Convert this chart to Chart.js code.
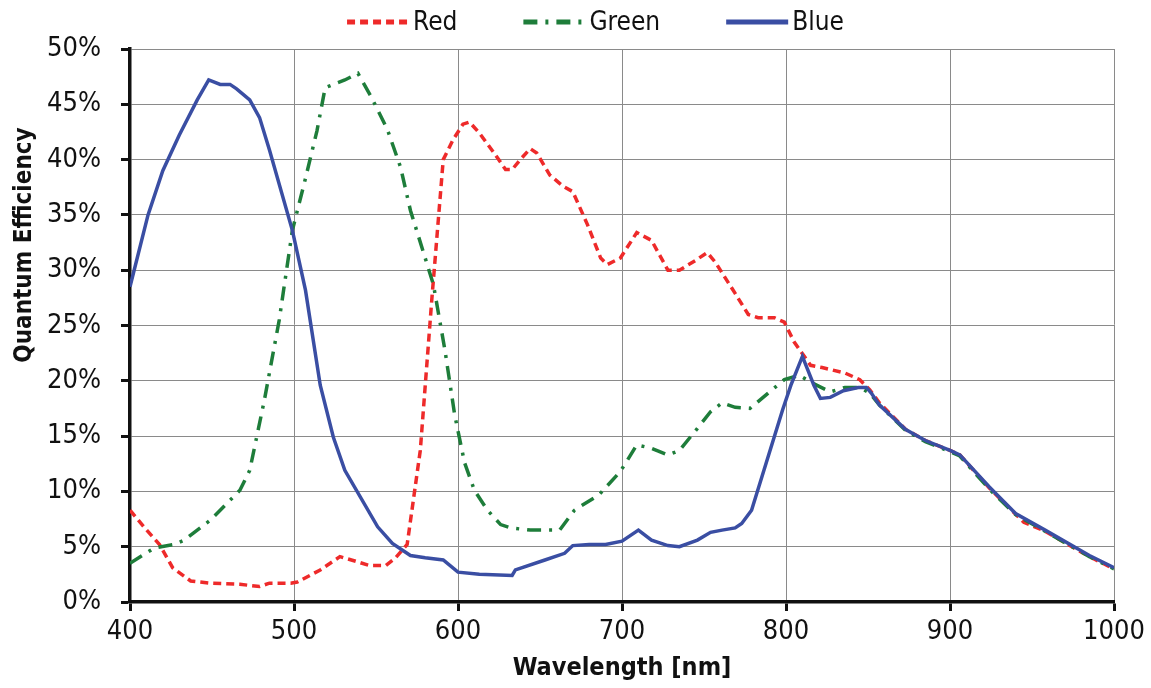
<!DOCTYPE html>
<html>
<head>
<meta charset="utf-8">
<script src="https://cdn.jsdelivr.net/npm/chart.js@4.4.0/dist/chart.umd.min.js"></script>
<style>
html,body{margin:0;padding:0;background:#fff;}
#wrap{width:1151px;height:688px;position:relative;}
</style>
</head>
<body>
<div id="wrap"><canvas id="c"></canvas></div>
<script>
const xTicks = [400, 500, 600, 700, 800, 900, 1000];
const yTicks = [0, 5, 10, 15, 20, 25, 30, 35, 40, 45, 50];

const redNm  = [400,409,418,426,437,449,467,479,485,498,502,516,528,535,546,556,562,569,577,584,591,597,603,607,613,622,629,633,638,644,648,656,664,670,679,687,691,699,709,718,728,735,745,752,757,769,777,783,793,799,805,815,822,836,845,851,857,873,885,900,906,924,945,958,985,1000];
const redPct = [8.3,6.7,5.2,3.1,1.9,1.7,1.6,1.4,1.7,1.7,1.8,2.9,4.1,3.8,3.3,3.3,4.0,5.2,13.7,27.3,40.0,41.8,43.2,43.4,42.4,40.6,39.1,39.1,40.0,41.0,40.6,38.6,37.6,37.1,34.1,31.1,30.5,31.1,33.4,32.7,30.0,30.0,30.9,31.6,30.7,27.9,26.0,25.7,25.7,25.3,23.5,21.4,21.2,20.7,20.1,19.2,18.0,15.6,14.6,13.7,13.3,10.3,7.2,6.4,4.1,3.0];

const greenNm  = [400,415,427,433,449,467,473,482,491,499,507,514,519,531,539,547,557,565,571,580,585,592,598,604,610,618,626,632,644,656,662,671,686,699,709,718,728,735,746,754,761,769,778,790,799,808,816,827,836,845,851,857,873,885,900,906,924,940,958,985,1000];
const greenPct = [3.5,4.9,5.2,5.6,7.4,10.1,11.9,18.3,25.5,33.6,38.3,42.6,46.5,47.2,47.8,45.7,42.7,39.3,35.4,31.1,28.7,22.8,16.9,12.6,10.1,8.3,7.0,6.7,6.5,6.5,6.5,8.3,9.7,11.8,14.2,13.9,13.3,13.7,15.7,17.2,18.0,17.6,17.5,19.0,20.1,20.5,19.8,19.0,19.4,19.4,18.9,17.8,15.5,14.5,13.6,13.2,10.2,7.9,6.4,4.1,3.0];

const blueNm  = [400,411,420,430,441,448,455,461,465,473,479,485,499,507,516,524,531,551,560,571,580,591,600,613,633,635,653,665,670,680,690,700,710,718,728,735,746,754,761,769,773,779,798,803,810,817,821,827,835,844,849,852,857,873,885,900,906,924,940,958,985,1000];
const bluePct = [28.5,35.0,39.0,42.2,45.4,47.2,46.8,46.8,46.4,45.4,43.8,40.9,33.6,28.2,19.6,14.9,11.9,6.8,5.3,4.2,4.0,3.8,2.7,2.5,2.4,2.9,3.8,4.4,5.1,5.2,5.2,5.5,6.5,5.6,5.1,5.0,5.6,6.3,6.5,6.7,7.1,8.3,17.4,19.6,22.2,19.6,18.4,18.5,19.1,19.4,19.4,18.9,17.8,15.6,14.6,13.7,13.3,10.4,8.0,6.5,4.2,3.1];

const seriesNames = ['Red', 'Green', 'Blue'];
const xTitle = 'Wavelength [nm]';
const yTitle = 'Quantum Efficiency';

function pts(xs, ys){ return xs.map((x,i)=>({x:x, y:ys[i]})); }

const FONT = "'DejaVu Sans Condensed', 'Liberation Sans Narrow', 'DejaVu Sans', sans-serif";

// Custom line-sample legend (drawn from the datasets' own styles) + y-axis title
const decor = {
  id: 'decor',
  afterDraw(chart) {
    const ctx = chart.ctx;
    const ds = chart.data.datasets;
    ctx.save();
    ctx.font = '26px ' + FONT;
    ctx.textBaseline = 'middle';
    const sample = 62, gapText = 4, gapItem = 66, y = 22;
    const widths = ds.map(d => ctx.measureText(d.label).width);
    let total = 0;
    ds.forEach((d, i) => { total += sample + gapText + widths[i] + (i < ds.length - 1 ? gapItem : 0); });
    let x = 595.5 - total / 2;
    ds.forEach((d, i) => {
      ctx.strokeStyle = d.borderColor;
      ctx.lineWidth = 5;
      ctx.setLineDash(d.borderDash || []);
      ctx.beginPath();
      ctx.moveTo(x, y);
      ctx.lineTo(x + sample, y);
      ctx.stroke();
      ctx.setLineDash([]);
      ctx.fillStyle = '#111';
      ctx.textAlign = 'left';
      ctx.fillText(d.label, x + sample + gapText, y + 1);
      x += sample + gapText + widths[i] + gapItem;
    });
    // y-axis title
    ctx.translate(25, 245);
    ctx.rotate(-Math.PI / 2);
    ctx.font = 'bold 24px ' + FONT;
    ctx.textAlign = 'center';
    ctx.textBaseline = 'middle';
    ctx.fillStyle = '#111';
    ctx.fillText(yTitle, 0, 0);
    ctx.restore();
  }
};

new Chart(document.getElementById('c'), {
  type: 'line',
  data: {
    datasets: [
      { label: seriesNames[0], data: pts(redNm, redPct), borderColor: '#ee2a2a', borderWidth: 3.5, borderDash: [8,5], pointRadius: 0, tension: 0, fill: false, order: 3 },
      { label: seriesNames[1], data: pts(greenNm, greenPct), borderColor: '#1e7d3a', borderWidth: 3.5, borderDash: [14,8,3,8], borderCapStyle: 'butt', pointRadius: 0, tension: 0, fill: false, order: 2 },
      { label: seriesNames[2], data: pts(blueNm, bluePct), borderColor: '#3a4ea3', borderWidth: 3.5, pointRadius: 0, tension: 0, fill: false, order: 1 }
    ]
  },
  plugins: [decor],
  options: {
    responsive: true,
    maintainAspectRatio: false,
    animation: false,
    layout: { padding: { left: 0, right: 37, top: 49, bottom: 0 } },
    plugins: {
      tooltip: { enabled: false },
      legend: { display: false }
    },
    scales: {
      x: {
        type: 'linear',
        min: 400, max: 1000,
        afterBuildTicks: (ax) => { ax.ticks = xTicks.map(v => ({value: v})); },
        afterFit: (s) => { s.height = 86; },
        grid: { color: '#8a8a8a', lineWidth: 1, tickColor: '#111', tickWidth: 3, tickLength: 9 },
        border: { color: '#111', width: 3.5 },
        ticks: { color: '#111', padding: 5, maxRotation: 0, font: { family: FONT, size: 27 }, callback: (v) => String(v) },
        title: { display: true, text: xTitle, color: '#111', padding: { top: 0, bottom: 5 }, font: { family: FONT, size: 25, weight: 'bold' } }
      },
      y: {
        min: 0, max: 50,
        afterBuildTicks: (ax) => { ax.ticks = yTicks.map(v => ({value: v})); },
        afterFit: (s) => { s.width = 130; },
        grid: { color: '#8a8a8a', lineWidth: 1, tickColor: '#111', tickWidth: 3, tickLength: 9 },
        border: { color: '#111', width: 3.5 },
        ticks: { color: '#111', padding: 20, font: { family: FONT, size: 27 }, callback: (v) => v + '%' },
        title: { display: false }
      }
    }
  }
});
</script>
</body>
</html>
